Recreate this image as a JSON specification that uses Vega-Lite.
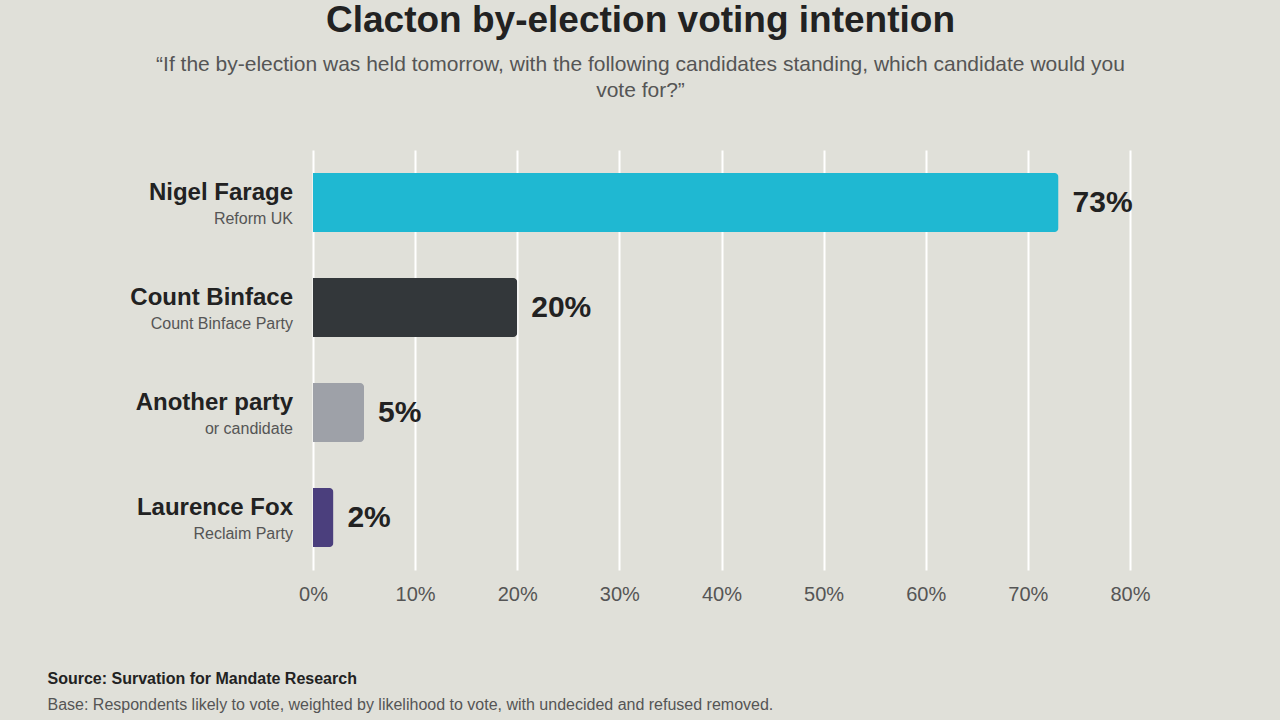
{
  "$schema": "https://vega.github.io/schema/vega-lite/v6.json",
  "width": 817,
  "height": 420,
  "autosize": "none",
  "padding": {"left": 313, "top": 150, "right": 150, "bottom": 150},
  "background": "#e0e0d9",
  "config": {"view": {"stroke": null}, "font": "Liberation Sans"},
  "title": {
    "text": "Clacton by-election voting intention",
    "subtitle": ["“If the by-election was held tomorrow, with the following candidates standing, which candidate would you", "vote for?”"],
    "anchor": "middle",
    "frame": "group",
    "dx": -81,
    "offset": 48,
    "fontSize": 37,
    "fontWeight": "bold",
    "color": "#222",
    "subtitleFontSize": 21,
    "subtitleColor": "#555",
    "subtitlePadding": 14,
    "subtitleLineHeight": 26
  },
  "data": {
    "values": [
      {"name": "Nigel Farage", "party": "Reform UK", "pct": 73, "color": "#1fb8d2"},
      {"name": "Count Binface", "party": "Count Binface Party", "pct": 20, "color": "#33373a"},
      {"name": "Another party", "party": "or candidate", "pct": 5, "color": "#9ea1a8"},
      {"name": "Laurence Fox", "party": "Reclaim Party", "pct": 2, "color": "#4b3f7d"}
    ]
  },
  "transform": [{"calculate": "datum.pct + '%'", "as": "lbl"}],
  "encoding": {
    "y": {"field": "name", "type": "nominal", "sort": null,
      "scale": {"paddingInner": 0.44, "paddingOuter": 0.22},
      "axis": null}
  },
  "resolve": {"axis": {"x": "independent"}},
  "layer": [
    {
      "layer": [
        {
          "mark": {"type": "bar", "cornerRadiusEnd": 4},
          "encoding": {
            "x": {"field": "pct", "type": "quantitative",
              "scale": {"domain": [0, 80]},
              "axis": {"orient": "bottom", "values": [0,10,20,30,40,50,60,70,80], "labelExpr": "datum.value + '%'",
                "grid": true, "gridColor": "#ffffff", "gridWidth": 2, "domain": false, "ticks": false,
                "labelFontSize": 20, "labelColor": "#555", "labelPadding": 14, "labelFlush": false,
                "title": "Source: Survation for Mandate Research", "titleFontSize": 16, "titleFontWeight": "bold",
                "titleColor": "#222", "titleAlign": "left", "titleAnchor": "start", "titleX": -266, "titleY": 100}},
            "color": {"field": "color", "type": "nominal", "scale": null}
          }
        },
        {
          "mark": {"type": "text", "dx": 14, "align": "left", "fontSize": 30, "fontWeight": "bold", "color": "#222"},
          "encoding": {
            "x": {"field": "pct", "type": "quantitative"},
            "text": {"field": "lbl"}
          }
        }
      ]
    },
    {
      "layer": [
        {
          "mark": {"type": "text", "dx": -20, "dy": -10, "align": "right", "fontSize": 24, "fontWeight": "bold", "color": "#222"},
          "encoding": {
            "x": {"datum": 0, "type": "quantitative",
              "axis": {"orient": "bottom", "offset": 0, "labels": false, "ticks": false, "domain": false, "grid": false,
                "title": "Base: Respondents likely to vote, weighted by likelihood to vote, with undecided and refused removed.",
                "titleFontSize": 16, "titleFontWeight": "normal", "titleColor": "#555",
                "titleAlign": "left", "titleAnchor": "start", "titleX": -266, "titleY": 126}},
            "text": {"field": "name"}
          }
        },
        {
          "mark": {"type": "text", "dx": -20, "dy": 16, "align": "right", "fontSize": 16, "color": "#555"},
          "encoding": {"x": {"datum": 0, "type": "quantitative"}, "text": {"field": "party"}}
        }
      ]
    }
  ]
}
